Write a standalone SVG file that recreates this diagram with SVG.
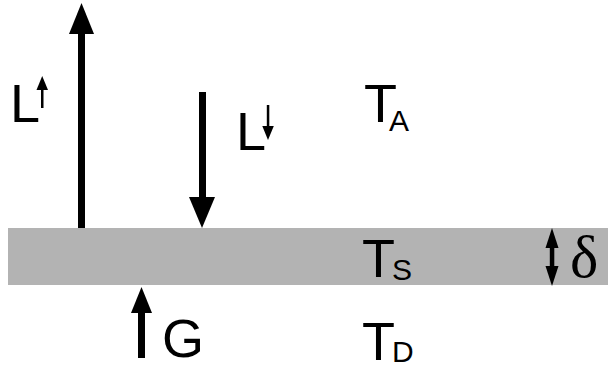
<svg xmlns="http://www.w3.org/2000/svg" width="608" height="372" viewBox="0 0 608 372">
<style>
.lbl{font-family:"Liberation Sans",Arial,Helvetica,sans-serif;fill:#000;font-size:54px}
.sub{font-size:30px}
.arr{fill:#000}
.sym{font-family:"Liberation Serif","Times New Roman",serif;fill:#000;font-size:60px}
</style>
<rect id="layer" x="8" y="228" width="600" height="57" fill="#b3b3b3"/>
<g id="connectors" class="arr">
  <rect x="78" y="33" width="7" height="195"/>
  <polygon points="69,34 94,34 81.5,3"/>
  <rect x="199" y="92" width="7" height="106"/>
  <polygon points="189,197 215,197 202,228"/>
  <rect x="138" y="312" width="7" height="46"/>
  <polygon points="131,313 152,313 141.5,287"/>
  <rect x="549.8" y="245" width="4.5" height="24"/>
  <polygon points="545.5,248 558.5,248 552,228"/>
  <polygon points="545.5,266 558.5,266 552,286"/>
</g>
<g id="L-up">
  <text class="lbl" x="10" y="122">L</text>
  <rect x="41" y="88" width="2.5" height="20"/>
  <polygon points="36.5,90 48,90 42.2,76"/>
</g>
<g id="L-down">
  <text class="lbl" x="236" y="150">L</text>
  <rect x="266.8" y="105" width="2.5" height="22"/>
  <polygon points="262.3,126 273.8,126 268,140"/>
</g>
<g id="TA"><text class="lbl" x="364" y="122">T<tspan class="sub" x="389" y="131">A</tspan></text></g>
<g id="TS"><text class="lbl" x="362" y="277">T<tspan class="sub" x="392" y="280">S</tspan></text></g>
<g id="TD"><text class="lbl" x="362" y="360">T<tspan class="sub" x="392" y="362">D</tspan></text></g>
<g id="G"><text class="lbl" x="162" y="357">G</text></g>
<g id="delta"><text class="sym" x="570" y="277">δ</text></g>
</svg>
